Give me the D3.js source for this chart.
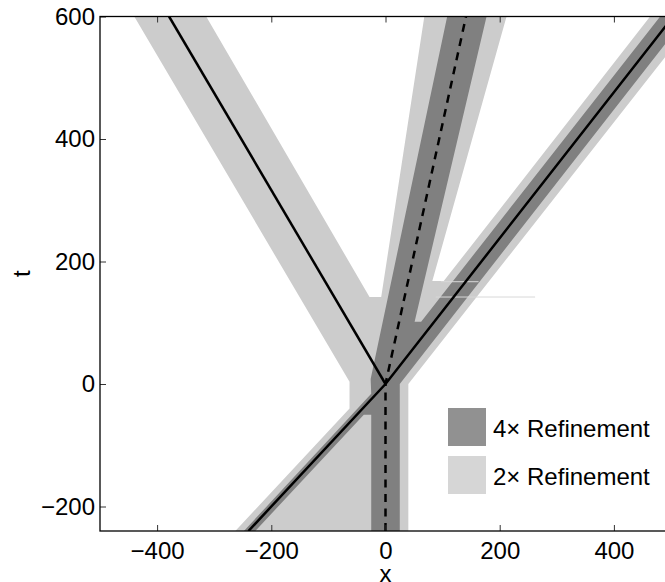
<!DOCTYPE html>
<html>
<head>
<meta charset="utf-8">
<script src="https://cdn.jsdelivr.net/npm/d3@7"></script>
<style>
  body { margin: 0; background: #fff; }
  #chart text { font-family: "Liberation Sans", Arial, Helvetica, sans-serif; fill: #000; }
</style>
</head>
<body>
<div id="chart"></div>
<script>
// Axis ticks
const xTicks = [-400, -200, 0, 200, 400];
const tTicks = [-200, 0, 200, 400, 600];

// Wave paths, as [x, t] points
const leftWave = [[0, 0], [-379, 600]];
const rightWave = [[-240, -240], [0, 0], [504, 600]];
const contactWave = [[0, -240], [0, 0], [141, 600]];

// 2x refinement region (outline, [x, t])
const refine2x = [
  [-263, -240], [-63, -40], [-63, 3.5], [-440, 600], [-314, 600], [-28, 142],
  [-7.5, 142], [68, 600], [212, 600], [82, 168], [102, 168], [547, 700],
  [630, 700], [40, 0], [40, -240]
];

// 4x refinement region (outline, [x, t])
const refine4x = [
  [-248, -240], [-25, -16], [-26, 8], [108, 600], [177, 600], [51, 101.7],
  [62.4, 101.7], [565, 700], [611, 700], [25, 0], [25, -240], [-25, -240],
  [-25, -50], [-38, -50], [-228, -240]
];

// faint patch edges left in the picture
const patchEdges = [[[88, 142], [262, 142]], [[97, 167], [163, 167]]];

const legendLabels = ["4\u00d7 Refinement", "2\u00d7 Refinement"];
const legendColors = ["#919191", "#d6d6d6"];

function drawChart() {
    d3.select("#chart").selectAll("*").remove();

    const margin = {top: 16.5, right: -6, bottom: 51, left: 100},
          width = 665 - margin.left - margin.right,
          height = 582 - margin.top - margin.bottom;

    const svg = d3.select("#chart").append("svg")
        .attr("width", 665)
        .attr("height", 582)
        .style("display", "block");

    const g = svg.append("g")
        .attr("transform", "translate(" + margin.left + "," + margin.top + ")");

    const x = d3.scaleLinear().domain([-500, 500]).range([0, width]);
    const y = d3.scaleLinear().domain([-240, 600]).range([height, 0]);

    g.append("clipPath").attr("id", "plotclip")
        .append("rect").attr("width", width).attr("height", height);

    const plot = g.append("g").attr("clip-path", "url(#plotclip)");

    const area = d3.line().x(d => x(d[0])).y(d => y(d[1]));

    plot.append("path")
        .attr("d", area(refine2x) + "Z")
        .attr("fill", "#cccccc");

    plot.append("path")
        .attr("d", area(refine4x) + "Z")
        .attr("fill", "#808080");

    patchEdges.forEach(e => {
        plot.append("path")
            .attr("d", area(e))
            .attr("fill", "none")
            .attr("stroke", "#d8d8d8")
            .attr("stroke-width", 1);
    });

    [leftWave, rightWave].forEach(w => {
        plot.append("path")
            .attr("d", area(w))
            .attr("fill", "none")
            .attr("stroke", "#000")
            .attr("stroke-width", 2.5);
    });

    plot.append("path")
        .attr("d", area(contactWave))
        .attr("fill", "none")
        .attr("stroke", "#000")
        .attr("stroke-width", 2.5)
        .attr("stroke-dasharray", "8,6.5");

    // axes, MATLAB style with inward ticks
    const fontSize = 24;
    const styleAxis = sel => {
        sel.select(".domain").remove();
        sel.selectAll(".tick line").attr("stroke", "#333").attr("stroke-width", 1);
        sel.selectAll("text").style("font-size", fontSize + "px");
    };

    g.append("g")
        .attr("transform", "translate(0," + height + ")")
        .call(d3.axisBottom(x).tickValues(xTicks).tickSizeInner(-6).tickSizeOuter(0).tickPadding(11))
        .call(styleAxis);

    g.append("g")
        .call(d3.axisTop(x).tickValues(xTicks).tickSizeInner(-6).tickSizeOuter(0).tickFormat(""))
        .call(styleAxis);

    g.append("g")
        .call(d3.axisLeft(y).tickValues(tTicks).tickSizeInner(-6).tickSizeOuter(0).tickPadding(5))
        .call(styleAxis);

    g.append("g")
        .attr("transform", "translate(" + width + ",0)")
        .call(d3.axisRight(y).tickValues(tTicks).tickSizeInner(-6).tickSizeOuter(0).tickFormat(""))
        .call(styleAxis);

    g.append("rect")
        .attr("width", width)
        .attr("height", height)
        .attr("fill", "none")
        .attr("stroke", "#000")
        .attr("stroke-width", 1.3);

    // axis titles
    svg.append("text")
        .attr("x", x(0) + margin.left)
        .attr("y", 582)
        .attr("text-anchor", "middle")
        .style("font-size", fontSize + "px")
        .text("x");

    svg.append("text")
        .attr("transform", "translate(30," + (margin.top + height / 2) + ") rotate(-90)")
        .attr("text-anchor", "middle")
        .style("font-size", fontSize + "px")
        .text("t");

    // legend
    const legend = svg.append("g").attr("transform", "translate(448,408)");
    legendLabels.forEach((label, i) => {
        legend.append("rect")
            .attr("x", 0)
            .attr("y", i * 48)
            .attr("width", 38)
            .attr("height", 38)
            .attr("fill", legendColors[i]);
        legend.append("text")
            .attr("x", 45)
            .attr("y", i * 48 + 29)
            .style("font-size", fontSize + "px")
            .text(label);
    });
}

document.addEventListener('DOMContentLoaded', drawChart);
</script>
</body>
</html>
